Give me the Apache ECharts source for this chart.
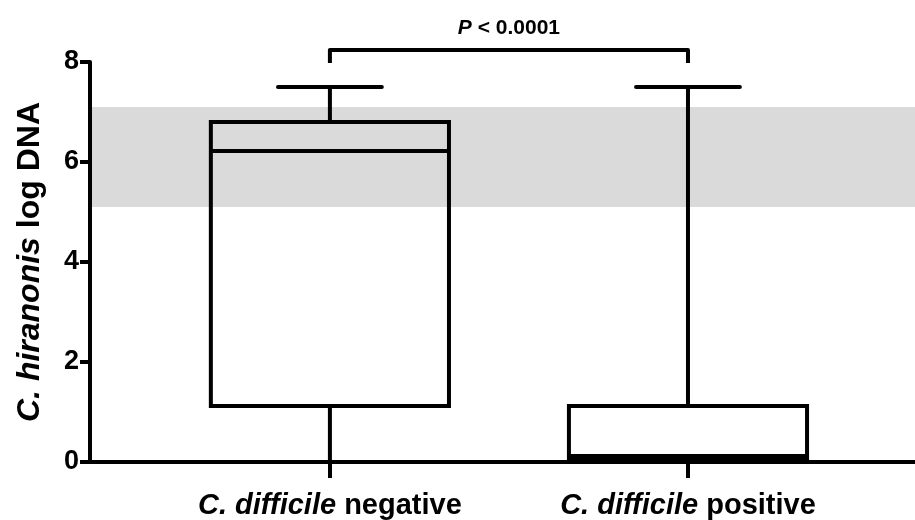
<!DOCTYPE html>
<html><head><meta charset="utf-8">
<script src="https://cdn.jsdelivr.net/npm/echarts@6/dist/echarts.min.js"></script>
<style>html,body{margin:0;padding:0;background:#fff}#c{width:915px;height:520px}</style>
</head><body><div id="c"></div>
<script>
// ---- data ----
const categories = ['C. difficile negative', 'C. difficile positive'];
const categoryItalic = ['C. difficile', 'C. difficile'];
const categoryRest = ['negative', 'positive'];
const whiskerLow = [0, 0.04];
const q1 = [1.12, 0.04];
const median = [6.22, 0.12];
const q3 = [6.8, 1.12];
const whiskerHigh = [7.5, 7.5];
const yTickValues = [0, 2, 4, 6, 8];
const referenceBand = [5.1, 7.1];
const pValueItalic = 'P';
const pValueRest = ' < 0.0001';

const FONT = 'Liberation Sans, Arial, Helvetica, sans-serif';
const boxData = categories.map((c, i) => [i + 1, whiskerLow[i], q1[i], median[i], q3[i], whiskerHigh[i]]);
const catPositions = categories.map((c, i) => i + 1);

function renderBox(params, api) {
  const x = api.value(0);
  const lo = api.coord([x, api.value(1)]);
  const b1 = api.coord([x, api.value(2)]);
  const md = api.coord([x, api.value(3)]);
  const b3 = api.coord([x, api.value(4)]);
  const hi = api.coord([x, api.value(5)]);
  const bw = api.size([0.665, 0])[0];
  const cw = api.size([0.29, 0])[0];
  const cx = lo[0];
  const ls = {stroke: '#000', lineWidth: 4};
  const cap = {stroke: '#000', lineWidth: 4, lineCap: 'round'};
  return {type: 'group', children: [
    {type: 'line', shape: {x1: cx, y1: b3[1], x2: cx, y2: hi[1]}, style: ls},
    {type: 'line', shape: {x1: cx, y1: b1[1], x2: cx, y2: lo[1]}, style: ls},
    {type: 'line', shape: {x1: cx - cw / 2, y1: hi[1], x2: cx + cw / 2, y2: hi[1]}, style: cap},
    {type: 'line', shape: {x1: cx - cw / 2, y1: lo[1], x2: cx + cw / 2, y2: lo[1]}, style: cap},
    {type: 'rect', shape: {x: cx - bw / 2, y: b3[1], width: bw, height: b1[1] - b3[1]},
      style: {stroke: '#000', lineWidth: 4, fill: 'transparent'}},
    {type: 'line', shape: {x1: cx - bw / 2, y1: md[1], x2: cx + bw / 2, y2: md[1]}, style: ls}
  ]};
}

function renderBracket(params, api) {
  const a = api.coord([api.value(0), yTickValues[yTickValues.length - 1]]);
  const b = api.coord([api.value(1), yTickValues[yTickValues.length - 1]]);
  const top = a[1] - 12;
  const bottom = a[1] + 1;
  return {type: 'group', children: [
    {type: 'polyline', shape: {points: [[a[0], bottom], [a[0], top], [b[0], top], [b[0], bottom]]},
      style: {stroke: '#000', lineWidth: 4, fill: null, lineJoin: 'round'}},
    {type: 'text', x: (a[0] + b[0]) / 2, y: top - 11,
      style: {text: '{i|' + pValueItalic + '}{b|' + pValueRest + '}', fill: '#000', fontSize: 21, fontWeight: 'bold',
        fontFamily: FONT, align: 'center', verticalAlign: 'bottom',
        rich: {
          i: {fontStyle: 'italic', fontWeight: 'bold', fontSize: 21, fontFamily: FONT, fill: '#000'},
          b: {fontWeight: 'bold', fontSize: 21, fontFamily: FONT, fill: '#000'}
        }}}
  ]};
}

const chart = echarts.init(document.getElementById('c'), null, {renderer: 'canvas'});
chart.setOption({
  backgroundColor: '#fff',
  animation: false,
  grid: {left: 90, right: 0, top: 62, bottom: 57, containLabel: false},
  xAxis: {
    type: 'value', min: 0.33, max: 2.634, z: 5,
    axisLine: {show: true, onZero: false, lineStyle: {color: '#000', width: 4}},
    axisTick: {show: true, customValues: catPositions, length: 16, lineStyle: {color: '#000', width: 4}},
    axisLabel: {
      show: true, customValues: catPositions, margin: 29,
      formatter: v => '{i|' + categoryItalic[Math.round(v) - 1] + '}{b| ' + categoryRest[Math.round(v) - 1] + '}',
      rich: {
        i: {fontStyle: 'italic', fontWeight: 'bold', fontSize: 29, fontFamily: FONT, color: '#000'},
        b: {fontWeight: 'bold', fontSize: 29, fontFamily: FONT, color: '#000'}
      }
    },
    splitLine: {show: false}
  },
  yAxis: {
    type: 'value', min: 0, max: 8, interval: 2, z: 5,
    name: '{i|C. hiranonis}{b| log DNA}', nameLocation: 'middle', nameGap: 44, nameRotate: 90,
    nameTextStyle: {
      rich: {
        i: {fontStyle: 'italic', fontWeight: 'bold', fontSize: 32, fontFamily: FONT, color: '#000'},
        b: {fontWeight: 'bold', fontSize: 32, fontFamily: FONT, color: '#000'}
      }
    },
    axisLine: {show: true, onZero: false, lineStyle: {color: '#000', width: 4}},
    axisTick: {show: true, length: 10, lineStyle: {color: '#000', width: 4}},
    axisLabel: {margin: 11, fontSize: 27, fontWeight: 'bold', fontFamily: FONT, color: '#000'},
    splitLine: {show: false}
  },
  series: [
    {
      type: 'custom', name: 'boxes', data: boxData, renderItem: renderBox, clip: false,
      encode: {x: 0, y: [1, 2, 3, 4, 5]},
      markArea: {silent: true, itemStyle: {color: '#dadada'},
        data: [[{yAxis: referenceBand[0]}, {yAxis: referenceBand[1]}]]}
    },
    {
      type: 'custom', name: 'bracket', data: [catPositions], renderItem: renderBracket, clip: false,
      encode: {x: [0, 1]}, silent: true
    }
  ]
});
</script></body></html>
